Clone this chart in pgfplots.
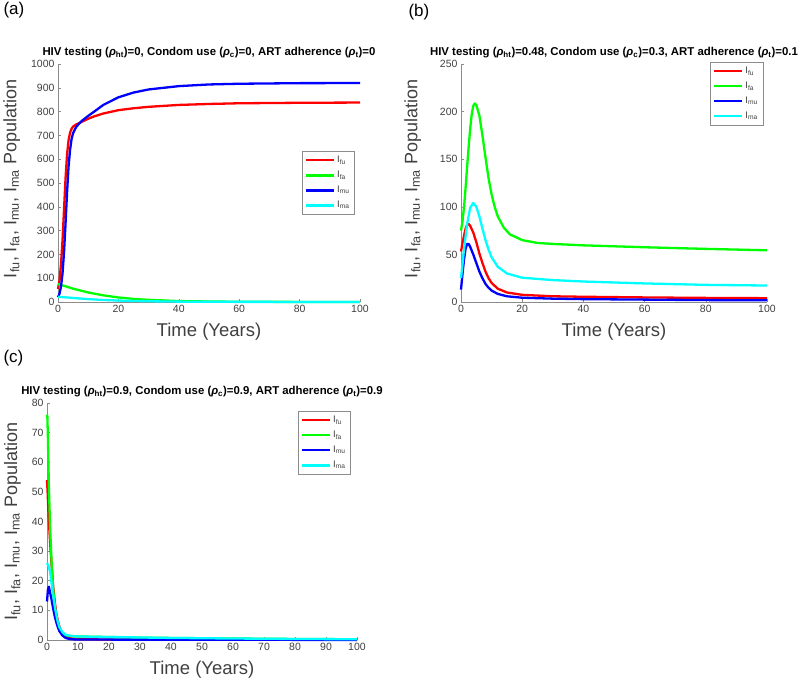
\documentclass[border=0pt]{standalone}
\usepackage{fontspec}
\setmainfont{Liberation Sans}
\usepackage{pgfplots}
\pgfplotsset{compat=1.18}
\definecolor{axgray}{gray}{0.55}
\definecolor{txtgray}{gray}{0.25}
\definecolor{cR}{RGB}{255,0,0}
\definecolor{cG}{RGB}{0,255,0}
\definecolor{cB}{RGB}{0,0,255}
\definecolor{cC}{RGB}{0,255,255}
\newcommand{\rh}[1]{(\textit{ρ}\textsubscript{#1})}
\pgfplotsset{
  hiv/.style={
    scale only axis,
    axis lines=left,
    axis line style={-, axgray, line width=0.6pt},
    every tick/.style={axgray, line width=0.5pt},
    major tick length=3pt,
    tick align=inside,
    xmin=0, xmax=100, ymin=0,
    enlargelimits=false,
    clip=false,
    /pgf/number format/assume math mode=true,
    /pgf/number format/1000 sep={},
    tick label style={font=\fontsize{10.5}{11}\selectfont, text=txtgray},
    title style={font=\bfseries\fontsize{11.4}{13}\selectfont, at={(0.5,1)}, anchor=south, yshift=-3.5pt, text=black},
    xlabel={Time (Years)},
    xlabel style={font=\fontsize{18.5}{20}\selectfont, text=txtgray, at={(axis description cs:0.5,0)}, anchor=center, yshift=-30pt},
    ylabel={I\textsubscript{fu}, I\textsubscript{fa}, I\textsubscript{mu}, I\textsubscript{ma} Population},
    ylabel style={font=\fontsize{18}{20}\selectfont, text=txtgray, rotate=0, anchor=north, inner sep=0pt},
    legend style={draw=axgray, line width=0.5pt, fill=white, font=\fontsize{9.5}{10}\selectfont, row sep=3pt, inner sep=3pt, text=txtgray},
    legend cell align=left,
    legend image code/.code={\draw[#1, line width=2.2pt] (0pt,0pt) -- (28pt,0pt);},
    every axis plot/.append style={line width=2.3pt, no marks, line join=round},
  }
}
\begin{document}
\begin{tikzpicture}[x=1pt,y=1pt]
\useasboundingbox (0,0) rectangle (800,682);
\node[anchor=west, font=\fontsize{17}{18}\selectfont] at (0,672) {(a)};
\node[anchor=west, font=\fontsize{17}{18}\selectfont] at (405,670) {(b)};
\node[anchor=west, font=\fontsize{17}{18}\selectfont] at (0,324) {(c)};

% ---------- (a)
\begin{axis}[hiv, at={(58pt,380pt)}, anchor=south west, width=302pt, height=238pt,
  ymax=1000, ytick={0,100,...,1000}, xtick={0,20,...,100},
  title={HIV testing \rh{ht}=0, Condom use \rh{c}=0, ART adherence \rh{t}=0},
  ylabel style={at={(axis description cs:-0.182,0.517)}},
  legend style={at={(0.983,0.634)}, anchor=north east}]
\addplot[cR] coordinates {(0,55)(0.5,90)(1,160)(1.5,260)(2,390)(2.5,520)(3,620)(3.5,680)(4,712)(4.5,728)(5,737)(6,746)(7,752)(8,758)(10,770)(12,780)(15,792)(20,806)(25,814)(30,820)(40,828)(50,832)(60,835)(80,837)(100,838)};
\addplot[cG] coordinates {(0,75)(2,68)(5,56)(10,40)(15,28)(20,19)(25,13)(30,9)(40,4)(50,2)(60,1)(80,0.3)(100,0.1)};
\addplot[cB] coordinates {(0,20)(0.5,35)(1,65)(1.5,120)(2,210)(2.5,330)(3,460)(3.5,570)(4,640)(4.5,685)(5,710)(6,735)(7,750)(8,762)(10,782)(12,800)(15,828)(20,860)(25,880)(30,893)(40,907)(50,914)(60,917)(80,919.5)(100,920)};
\addplot[cC] coordinates {(0,22)(2,20)(5,17)(10,12)(15,8.5)(20,6)(30,3)(40,1.5)(60,0.5)(100,0.1)};
\legend{I\textsubscript{fu},I\textsubscript{fa},I\textsubscript{mu},I\textsubscript{ma}}
\end{axis}

% ---------- (b)
\begin{axis}[hiv, at={(461pt,380pt)}, anchor=south west, width=306pt, height=238pt,
  ymax=250, ytick={0,50,...,250}, xtick={0,20,...,100},
  title={HIV testing \rh{ht}=0.48, Condom use \rh{c}=0.3, ART adherence \rh{t}=0.1},
  ylabel style={at={(axis description cs:-0.186,0.517)}},
  legend style={at={(0.987,1.01)}, anchor=north east}]
\addplot[cR] coordinates {(0,53)(0.5,62)(1,70)(1.5,77)(2,81)(2.5,82)(3,80)(4,73)(5,63)(6,51)(7,41)(8,32)(9,25)(10,20)(12,14)(15,10)(20,7.5)(30,6)(40,5.5)(60,4.8)(80,4.3)(100,4)};
\addplot[cG] coordinates {(0,75)(0.5,85)(1,100)(1.5,120)(2,142)(2.5,163)(3,182)(3.5,197)(4,206)(4.5,208.5)(5,207)(6,196)(7,175)(8,152)(9,130)(10,113)(11,100)(12,90)(14,78)(16,71)(20,65)(25,62)(30,61)(40,59.5)(60,57.5)(80,55.8)(100,54.3)};
\addplot[cB] coordinates {(0,13)(0.5,30)(1,45)(1.5,56)(2,61)(2.5,61)(3,58)(4,50)(5,41)(6,32)(7,25)(8,19)(9,15)(10,12)(12,8.5)(15,6)(20,4.5)(30,3.5)(40,3)(60,2.5)(80,2)(100,1.8)};
\addplot[cC] coordinates {(0,25)(0.5,40)(1,56)(2,82)(3,99)(4,104)(5,100)(6,90)(7,77)(8,65)(9,55)(10,47)(12,37)(15,30)(20,25.5)(30,23)(40,21.5)(60,19.5)(80,18)(100,17.3)};
\legend{I\textsubscript{fu},I\textsubscript{fa},I\textsubscript{mu},I\textsubscript{ma}}
\end{axis}

% ---------- (c)
\begin{axis}[hiv, at={(47pt,42pt)}, anchor=south west, width=310pt, height=237pt,
  ymax=80, ytick={0,10,...,80}, xtick={0,10,...,100},
  title={HIV testing \rh{ht}=0.9, Condom use \rh{c}=0.9, ART adherence \rh{t}=0.9},
  ylabel style={at={(axis description cs:-0.139,0.5)}},
  legend style={at={(0.98,0.966)}, anchor=north east}]
\addplot[cR] coordinates {(0,54)(0.2,50)(0.5,42)(1,33)(1.5,25)(2,18)(2.5,13)(3,9)(3.5,6.5)(4,4.5)(5,2.2)(6,1.2)(7,0.7)(8,0.5)(10,0.3)(20,0.15)(40,0.1)(100,0.05)};
\addplot[cG] coordinates {(0,76)(0.1,76)(0.3,68)(0.6,52)(1,38)(1.5,26)(2,17)(2.5,11)(3,7.5)(3.5,5)(4,3.6)(5,2.2)(6,1.6)(8,1.3)(10,1.2)(20,1)(30,0.8)(40,0.7)(60,0.5)(80,0.35)(100,0.25)};
\addplot[cB] coordinates {(0,13)(0.3,17)(0.6,18)(1,16)(1.5,13.5)(2,10.5)(2.5,8)(3,6)(3.5,4.3)(4,3)(5,1.5)(6,0.7)(7,0.4)(8,0.25)(10,0.15)(100,0.02)};
\addplot[cC] coordinates {(0,26)(0.5,25)(1,23)(1.5,19)(2,15)(2.5,11.5)(3,8.5)(3.5,6)(4,4.3)(5,2.6)(6,1.8)(7,1.5)(8,1.35)(10,1.2)(20,1)(30,0.85)(40,0.7)(60,0.5)(80,0.35)(100,0.25)};
\legend{I\textsubscript{fu},I\textsubscript{fa},I\textsubscript{mu},I\textsubscript{ma}}
\end{axis}
\end{tikzpicture}
\end{document}
